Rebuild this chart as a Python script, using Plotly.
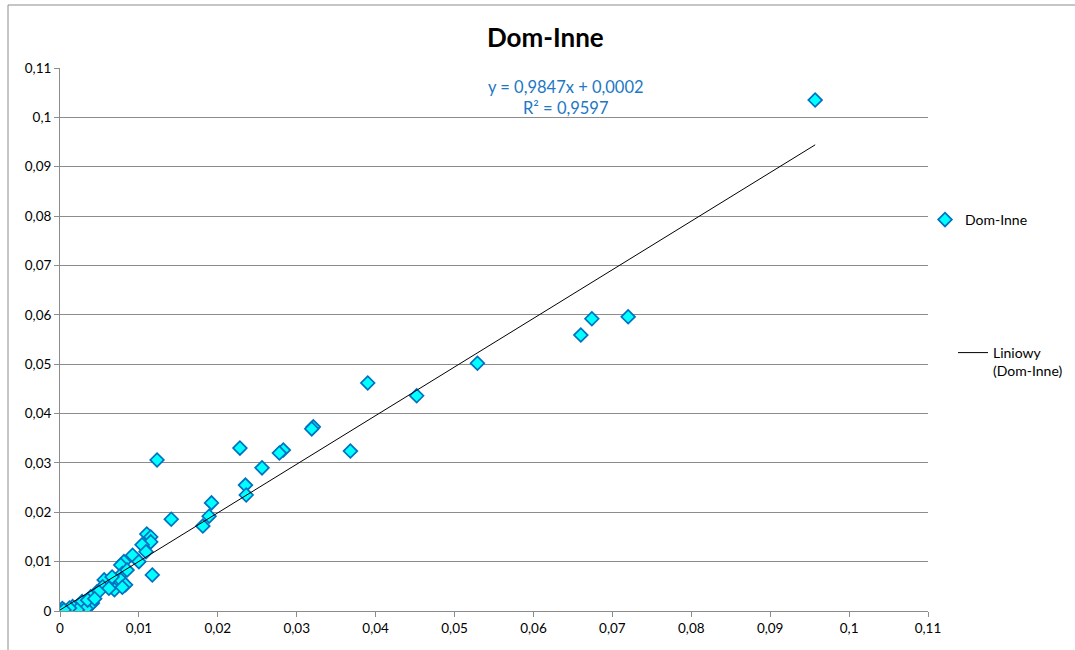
import plotly.graph_objects as go

# Observations: share in "Dom" (x) vs share in "Inne" (y)
dom = [
    0.0957, 0.0720, 0.0674, 0.0660, 0.0529, 0.0452, 0.0390, 0.0368,
    0.0321, 0.0319, 0.0283, 0.0278, 0.0256, 0.0228, 0.0235, 0.0236,
    0.0192, 0.0189, 0.0181, 0.0141, 0.0123, 0.0117, 0.0110, 0.0115,
    0.0115, 0.0104, 0.0109, 0.0092, 0.0100, 0.0081, 0.0077, 0.0079,
    0.0085, 0.0077, 0.0083, 0.0069, 0.0079, 0.0056, 0.0054, 0.0047,
    0.0066, 0.0062, 0.0049, 0.0039, 0.0041, 0.0028, 0.0033, 0.0016,
    0.0022, 0.0003, 0.0000, 0.0009, 0.0012, 0.0005, 0.0035, 0.0044,
]
inne = [
    0.1035, 0.0596, 0.0592, 0.0559, 0.0502, 0.0436, 0.0462, 0.0324,
    0.0373, 0.0369, 0.0326, 0.0320, 0.0290, 0.0330, 0.0255, 0.0235,
    0.0219, 0.0192, 0.0172, 0.0186, 0.0306, 0.0073, 0.0156, 0.0150,
    0.0140, 0.0134, 0.0120, 0.0113, 0.0100, 0.0100, 0.0093, 0.0076,
    0.0083, 0.0063, 0.0053, 0.0043, 0.0048, 0.0063, 0.0049, 0.0039,
    0.0069, 0.0046, 0.0039, 0.0029, 0.0016, 0.0019, 0.0005, 0.0009,
    0.0002, 0.0005, 0.0000, 0.0000, 0.0006, 0.0002, 0.0022, 0.0025,
]

# Linear trend parameters as printed on the chart
slope = 0.9847
intercept = 0.0002
r_squared = 0.9597

tick_vals = [0, 0.01, 0.02, 0.03, 0.04, 0.05, 0.06, 0.07, 0.08, 0.09, 0.1, 0.11]
tick_text = ["0", "0,01", "0,02", "0,03", "0,04", "0,05", "0,06", "0,07",
             "0,08", "0,09", "0,1", "0,11"]

FONT = "Lato, Carlito, Calibri, sans-serif"
GRID = "#8c8c8c"

x_lo, x_hi = min(dom), max(dom)
trend_x = [x_lo, x_hi]
trend_y = [slope * v + intercept for v in trend_x]

fig = go.Figure()
fig.add_trace(go.Scatter(
    x=dom, y=inne, mode="markers", name="Dom-Inne",
    marker=dict(symbol="diamond", size=10.5, color="#00FFFF",
                line=dict(color="#0070C0", width=1.7)),
    legend="legend",
))
fig.add_trace(go.Scatter(
    x=trend_x, y=trend_y, mode="lines", name="Liniowy<br>(Dom-Inne)",
    line=dict(color="black", width=1),
    legend="legend2",
))

W, H = 1075, 650
L, R, T, B = 60, 928, 68, 611


def px_x(p):
    return (p - L) / (R - L)


def px_y(p):
    return (B - p) / (B - T)


eq_text = (f"y = {slope:.4f}x + {intercept:.4f}".replace(".", ",")
           + "<br>" + f"R² = {r_squared:.4f}".replace(".", ","))

fig.update_layout(
    width=W, height=H,
    margin=dict(l=L, r=W - R, t=T, b=H - B, autoexpand=False),
    paper_bgcolor="white", plot_bgcolor="white",
    font=dict(family=FONT, size=13, color="black"),
    xaxis=dict(range=[0, 0.11], tickvals=tick_vals, ticktext=tick_text,
               showgrid=False, zeroline=False, showline=True,
               linecolor=GRID, linewidth=1, ticks="outside", ticklen=5,
               tickcolor=GRID, tickfont=dict(size=13.5)),
    yaxis=dict(range=[0, 0.11], tickvals=tick_vals, ticktext=tick_text,
               showgrid=True, gridcolor=GRID, gridwidth=1, zeroline=False,
               showline=True, linecolor=GRID, linewidth=1, ticks="outside",
               ticklen=5, tickcolor=GRID, tickfont=dict(size=13.5)),
    showlegend=True,
    legend=dict(x=px_x(925), y=px_y(220), xanchor="left", yanchor="middle",
                bgcolor="rgba(0,0,0,0)", font=dict(size=14)),
    legend2=dict(x=px_x(953), y=px_y(362), xanchor="left", yanchor="middle",
                 valign="top", bgcolor="rgba(0,0,0,0)", font=dict(size=14)),
    annotations=[
        dict(text="<b>Dom-Inne</b>", x=px_x(545), y=px_y(37), xref="paper",
             yref="paper", xanchor="center", yanchor="middle",
             showarrow=False, font=dict(size=26, color="black")),
        dict(text=eq_text, x=px_x(566), y=px_y(98), xref="paper",
             yref="paper", xanchor="center", yanchor="middle",
             showarrow=False, align="center",
             font=dict(size=16.5, color="#2277C4")),
    ],
    shapes=[
        dict(type="rect", xref="paper", yref="paper",
             x0=px_x(8), x1=px_x(1100), y0=px_y(680), y1=px_y(5),
             line=dict(color="#8c8c8c", width=1), fillcolor="rgba(0,0,0,0)",
             layer="below"),
    ],
)

fig.write_html("out.html")
